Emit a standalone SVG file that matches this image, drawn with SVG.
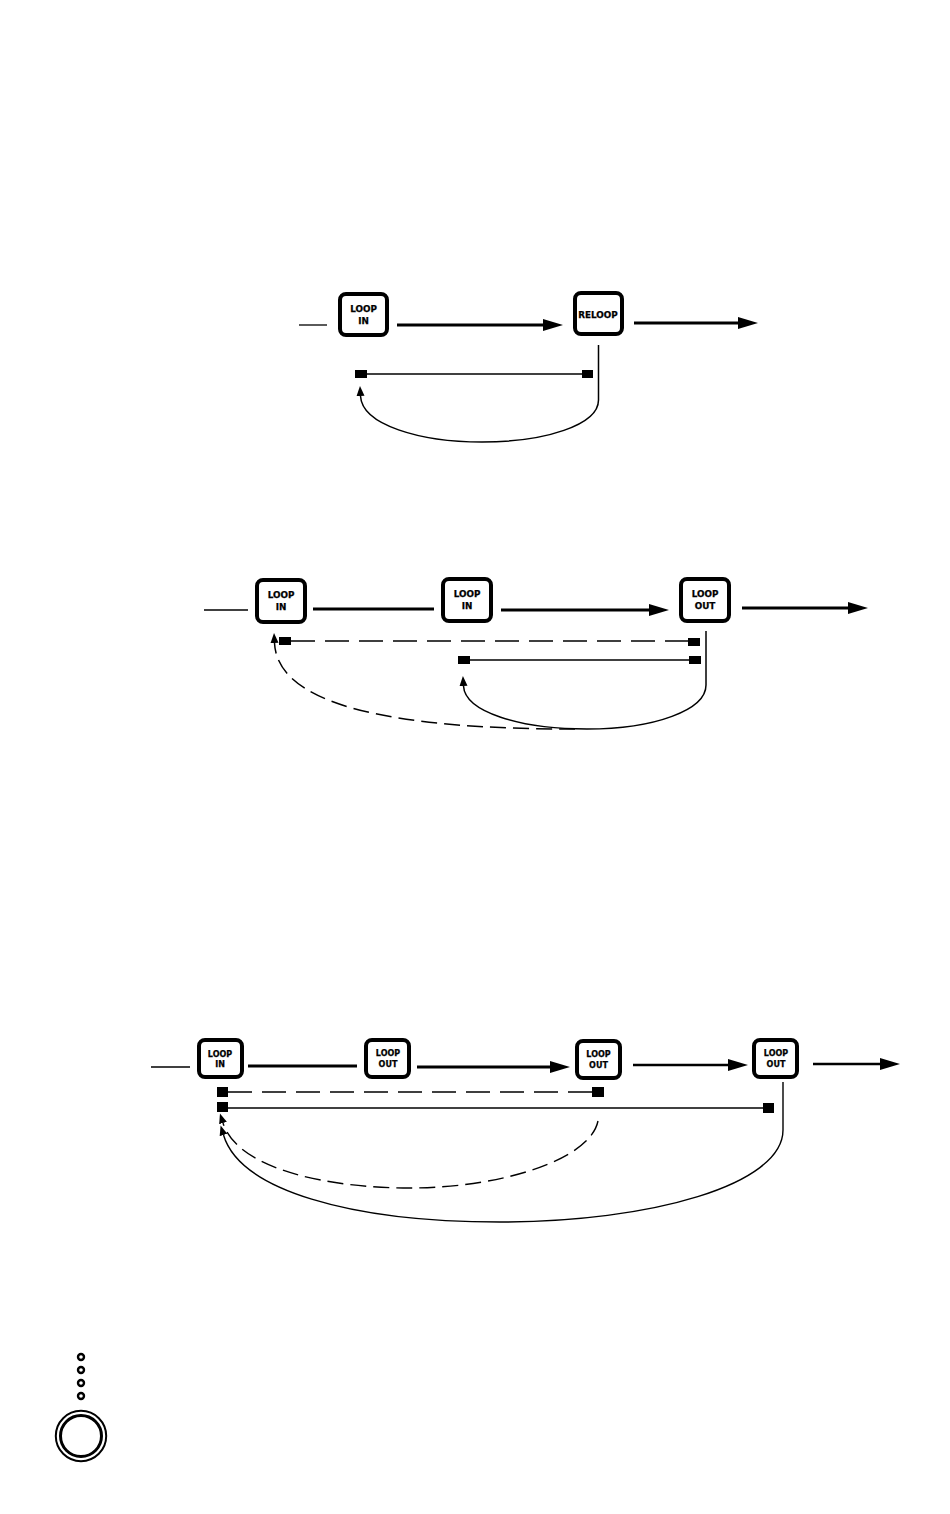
<svg xmlns="http://www.w3.org/2000/svg" width="950" height="1514" viewBox="0 0 950 1514">
<style>
.bg{fill:#fff}
.box{fill:#fff;stroke:#000;stroke-width:4}
.t{font-family:"DejaVu Sans",sans-serif;font-weight:bold;font-size:8.8px;text-anchor:middle;fill:#000;stroke:#000;stroke-width:.25}
.t2{font-size:8px}
.thin{fill:none;stroke:#000;stroke-width:1.3}
.thick{fill:none;stroke:#000;stroke-width:3}
.mid{fill:none;stroke:#000;stroke-width:2.5}
.head{marker-end:url(#big)}
.tip{marker-end:url(#small)}
.dash{stroke-dasharray:24 10}
.cdash{stroke-dasharray:16 7}
.sq{fill:#000}
.ring{fill:none;stroke:#000}
</style>
<defs>
<marker id="big" markerUnits="userSpaceOnUse" markerWidth="22" markerHeight="14" refX="0" refY="7" orient="auto"><path d="M0 1L20 7L0 13Z" fill="#000"/></marker>
<marker id="small" markerUnits="userSpaceOnUse" markerWidth="11" markerHeight="10" refX="0" refY="5" orient="auto"><path d="M0 1L10 5L0 9Z" fill="#000"/></marker>
</defs>
<rect class="bg" width="950" height="1514"/>
<g id="connectors">
<path class="thin" d="M299 325H327"/>
<path class="thick head" d="M397 325H543"/>
<path class="thick head" d="M634 323H738"/>
<path class="thin" d="M361 374H587"/>
<rect class="sq" x="355" y="370" width="12" height="8"/>
<rect class="sq" x="582" y="370" width="11" height="8"/>
<path class="thin tip" style="stroke-width:1.5" d="M598.5 345V400C598.5 425 545 442 482 442C420 442 362 425 360.5 396"/>

<path class="thin" d="M204 610H248"/>
<path class="thick" d="M313 609H434"/>
<path class="thick head" d="M501 610H649"/>
<path class="thick head" d="M742 608H848"/>
<path class="thin dash" style="stroke-width:1.6" d="M291 641H688"/>
<rect class="sq" x="279" y="637" width="12" height="8"/>
<rect class="sq" x="688" y="638" width="12" height="8"/>
<path class="thin" d="M464 660H695"/>
<rect class="sq" x="458" y="656" width="12" height="8"/>
<rect class="sq" x="689" y="656" width="12" height="8"/>
<path class="thin tip" style="stroke-width:1.5" d="M706 631V685C706 710 655 729 587 729C520 729 465 712 463.500 686"/>
<path class="thin cdash tip" style="stroke-width:1.5" d="M575 729C440 729 278 717 274.500 643"/>

<path class="thin" d="M151 1067H190"/>
<path class="thick" d="M248 1066H357"/>
<path class="thick head" d="M417 1067H550"/>
<path class="mid head" d="M633 1065H728"/>
<path class="mid head" d="M813 1064H880"/>
<path class="thin dash" d="M228 1092H592"/>
<rect class="sq" x="217" y="1087" width="11" height="10"/>
<rect class="sq" x="592" y="1087" width="12" height="10"/>
<path class="thin" d="M223 1108H768"/>
<rect class="sq" x="217" y="1102" width="11" height="10"/>
<rect class="sq" x="763" y="1103" width="11" height="10"/>
<path class="thin tip" style="stroke-width:1.4" d="M783 1082V1130C783 1185 650 1222 500 1222C350 1222 240 1190 223.500 1135"/>
<path class="thin cdash tip" style="stroke-width:1.4" d="M598 1121C590 1160 500 1188 410 1188C330 1188 238 1170 223 1123"/>
</g>
<g id="d1-loop-in"><rect class="box" x="340" y="294" width="47" height="41" rx="6"/><text class="t" x="363.500" y="312">LOOP</text><text class="t" x="363.500" y="324">IN</text></g>
<g id="d1-reloop"><rect class="box" x="575" y="293" width="47" height="41" rx="6"/><text class="t" x="598" y="317.500">RELOOP</text></g>
<g id="d2-loop-in-1"><rect class="box" x="257" y="580" width="48" height="42" rx="6"/><text class="t" x="281" y="598">LOOP</text><text class="t" x="281" y="610">IN</text></g>
<g id="d2-loop-in-2"><rect class="box" x="443" y="579" width="48" height="42" rx="6"/><text class="t" x="467" y="597">LOOP</text><text class="t" x="467" y="609">IN</text></g>
<g id="d2-loop-out"><rect class="box" x="681" y="579" width="48" height="42" rx="6"/><text class="t" x="705" y="597">LOOP</text><text class="t" x="705" y="609">OUT</text></g>
<g id="d3-loop-in"><rect class="box" x="199" y="1040" width="43" height="37" rx="6"/><text class="t t2" x="220" y="1056.500">LOOP</text><text class="t t2" x="220" y="1067">IN</text></g>
<g id="d3-loop-out-1"><rect class="box" x="366" y="1040" width="43" height="37" rx="6"/><text class="t t2" x="388" y="1056">LOOP</text><text class="t t2" x="388" y="1067">OUT</text></g>
<g id="d3-loop-out-2"><rect class="box" x="577" y="1041" width="43" height="37" rx="6"/><text class="t t2" x="598.500" y="1057">LOOP</text><text class="t t2" x="598.500" y="1068">OUT</text></g>
<g id="d3-loop-out-3"><rect class="box" x="754" y="1040" width="43" height="37" rx="6"/><text class="t t2" x="776" y="1056">LOOP</text><text class="t t2" x="776" y="1067">OUT</text></g>
<g id="dial">
<circle class="ring" cx="81" cy="1357" r="3" stroke-width="2.400"/>
<circle class="ring" cx="81" cy="1370" r="3" stroke-width="2.400"/>
<circle class="ring" cx="81" cy="1383" r="3" stroke-width="2.400"/>
<circle class="ring" cx="81" cy="1396" r="3" stroke-width="2.400"/>
<circle class="ring" cx="81" cy="1436" r="25.200" stroke-width="2"/>
<circle class="ring" cx="81" cy="1436" r="20.500" stroke-width="3"/>
</g>
</svg>
